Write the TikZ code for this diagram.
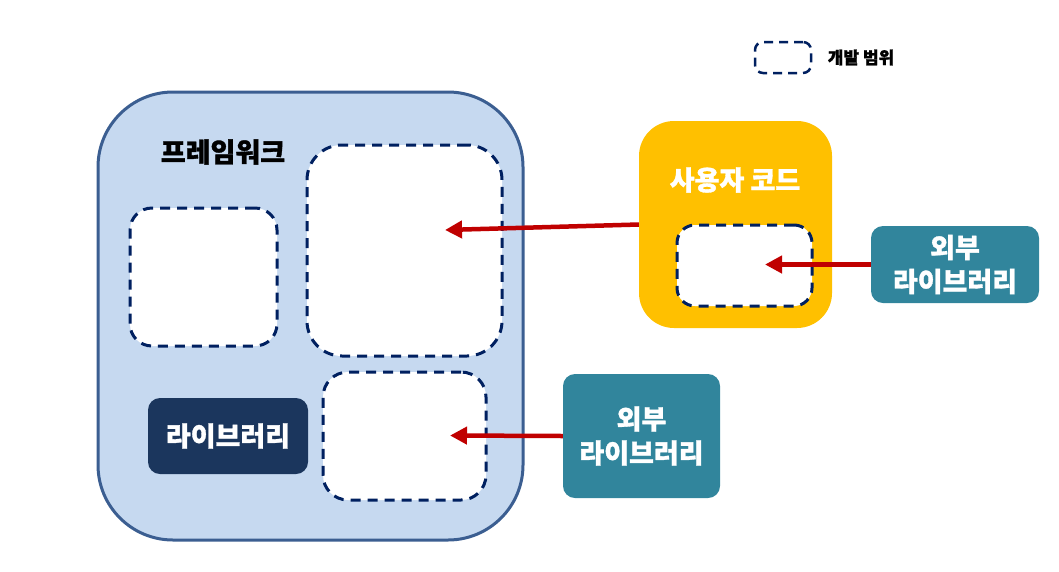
\documentclass[tikz,border=0pt]{standalone}
\usepackage{fontspec}
\usepackage{tikz}
\usetikzlibrary{arrows.meta, positioning}
\newfontfamily\kr{Noto Sans CJK KR}[BoldFeatures={FakeBold=1.2}]
\definecolor{fwfill}{RGB}{198,217,240}
\definecolor{fwdraw}{RGB}{59,94,145}
\definecolor{devnavy}{RGB}{0,32,96}
\definecolor{libnavy}{RGB}{27,54,93}
\definecolor{userfill}{RGB}{255,192,0}
\definecolor{extteal}{RGB}{49,133,156}
\definecolor{arrred}{RGB}{192,0,0}

\begin{document}
\begin{tikzpicture}[
  x=1pt, y=-1pt,
  txt/.style={font=\kr\bfseries\fontsize{27}{34}\selectfont, align=center},
  devbox/.style={draw=devnavy, fill=white, line width=3pt,
                 dash pattern=on 10pt off 7pt},
  solidbox/.style={draw=none, txt, text=white, rounded corners=12pt},
  arr/.style={-{Triangle[length=17pt, width=17pt]}, line width=4.5pt, arrred},
]
\useasboundingbox (0,0) rectangle (1059,571);

% FRAMEWORK
\node[draw=fwdraw, fill=fwfill, line width=3pt, rounded corners=75pt,
      minimum width=425pt, minimum height=448pt] (fw) at (310.5,316) {};
\node[txt] (fwtitle) at (223,152) {프레임워크};
\node[devbox, rounded corners=22pt, minimum width=147pt, minimum height=138pt] (devA) at (203.5,277) {};
\node[devbox, rounded corners=35pt, minimum width=195pt, minimum height=211pt] (devB) at (404.5,250.5) {};
\node[devbox, rounded corners=25pt, minimum width=163pt, minimum height=128pt] (devC) at (404.5,436) {};
\node[solidbox, fill=libnavy, minimum width=160pt, minimum height=76pt] (lib) at (228,436) {라이브러리};

% USER CODE
\node[draw=none, fill=userfill, rounded corners=35pt,
      minimum width=193pt, minimum height=207pt] (user) at (735.5,224.5) {};
\node[txt, text=white] (usertitle) at (735,180) {사용자 코드};
\node[devbox, rounded corners=18pt, minimum width=135pt, minimum height=81pt] (devD) at (744.5,265.5) {};

% EXTERNAL LIBRARIES
\node[solidbox, fill=extteal, minimum width=168pt, minimum height=77pt] (ext1) at (955,264.5) {외부\\라이브러리};
\node[solidbox, fill=extteal, minimum width=157pt, minimum height=124pt] (ext2) at (641.5,436) {외부\\라이브러리};

% ARROWS
\coordinate (tipB) at (445,230);
\coordinate (tipD) at (765,264.5);
\coordinate (tipC) at (450,435.5);
\draw[arr] (user.west) -- (tipB);
\draw[arr] (ext1.west) -- (tipD);
\draw[arr] (ext2.west) -- (tipC);

% LEGEND
\node[devbox, rounded corners=8pt, line width=2.5pt, dash pattern=on 9pt off 6pt,
      minimum width=56pt, minimum height=31pt] (legbox) at (783,57.5) {};
\node[font=\kr\bfseries\fontsize{17}{20}\selectfont, right=12pt of legbox] (legtext) {개발 범위};

\end{tikzpicture}
\end{document}
